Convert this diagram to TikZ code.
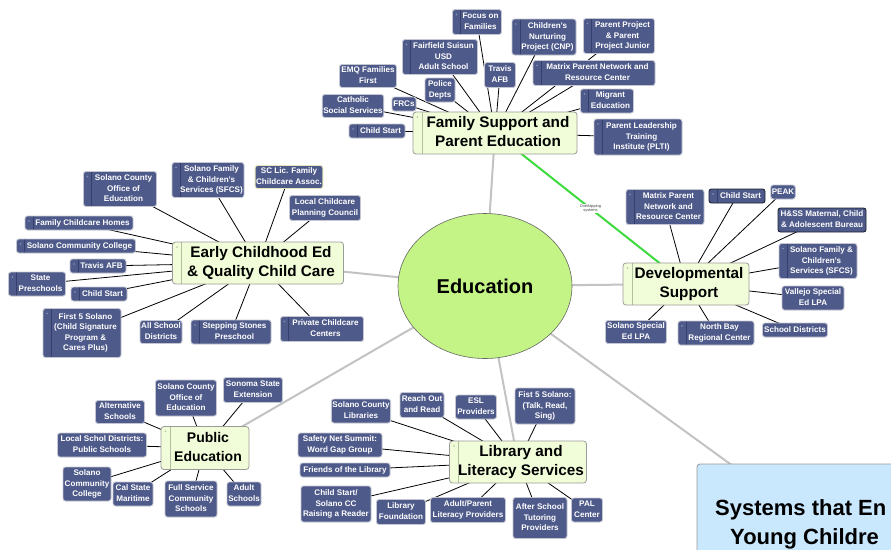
\documentclass[tikz,border=0pt]{standalone}
\usepackage{fontspec}
\setmainfont{Liberation Sans}
\usetikzlibrary{shapes.geometric}
\pgfdeclarelayer{background}
\pgfsetlayers{background,main}
\definecolor{itemfill}{HTML}{4E5A8A}
\definecolor{itemborder}{HTML}{C4C6D2}
\definecolor{darkborder}{HTML}{1C2030}
\definecolor{scborder}{HTML}{E6E6B8}
\definecolor{barcol}{HTML}{363F6C}
\definecolor{iconcol}{HTML}{8A93B8}
\definecolor{hubfill}{HTML}{F1FDD9}
\definecolor{hubborder}{HTML}{9A9A9A}
\definecolor{hubbar}{HTML}{B0C0A0}
\definecolor{edufill}{HTML}{C4F485}
\definecolor{eduborder}{HTML}{666666}
\definecolor{hublinecol}{HTML}{C3C3C3}
\definecolor{greenline}{HTML}{3DDB3D}
\definecolor{sysfill}{HTML}{C9E8FE}
\definecolor{sysborder}{HTML}{9A9A9A}
\newcommand\itx[1]{\begin{tabular}{@{}c@{}}#1\end{tabular}}
\newcommand\itb[1]{\hspace*{7pt}\itx{#1}}
\newcommand\hbt[1]{\hspace*{6pt}\itx{#1}}
\newcommand\itemfont{\fontsize{8.1}{10.5}\selectfont\bfseries}
\newcommand\hubfont{\fontsize{15.3}{19}\selectfont\bfseries}
\tikzset{
  sz/.style 2 args={minimum width=#1pt,minimum height=#2pt},
  item/.style={draw=itemborder, line width=0.9pt, fill=itemfill, rounded corners=2.5pt,
    text=white, font=\itemfont, inner sep=1pt},
  ibar/.style={path picture={
    \draw[barcol, line width=0.8pt] ([xshift=8pt]path picture bounding box.north west) -- ([xshift=8pt]path picture bounding box.south west);
    \fill[iconcol] ([xshift=4pt,yshift=-5pt]path picture bounding box.north west) circle (0.8pt);}},
  dk/.style={draw=darkborder},
  hub/.style={draw=hubborder, line width=0.8pt, fill=hubfill, rounded corners=3pt,
    text=black, font=\hubfont, inner sep=1pt},
  hbar/.style={path picture={
    \draw[hubbar, line width=0.8pt] ([xshift=9pt]path picture bounding box.north west) -- ([xshift=9pt]path picture bounding box.south west);
    \fill[hubbar] ([xshift=4.5pt,yshift=-5pt]path picture bounding box.north west) circle (0.9pt);}},
  conn/.style={draw=black, line width=0.8pt},
  hubline/.style={draw=hublinecol, line width=2pt},
  ovl/.style={fill=white, inner sep=0.3pt, font=\fontsize{3.9}{4.8}\selectfont, text=black!75, align=center},
}
\begin{document}
\begin{tikzpicture}[x=1pt,y=-1pt]
\useasboundingbox (0,0) rectangle (891,549);
\clip (0,0) rectangle (891,549);

% central node
\node[ellipse, draw=eduborder, line width=0.6pt, fill=edufill, minimum width=174pt, minimum height=145pt, inner sep=0pt,
  font=\fontsize{20}{24}\selectfont\bfseries] (edu) at (485,286) {Education};

% systems box
\node[draw=sysborder, line width=0.8pt, fill=sysfill, rounded corners=3pt, sz={306}{174}] (sys) at (850,551) {};
\node[anchor=base west, font=\fontsize{22}{26}\selectfont\bfseries, inner sep=0pt] (sysa) at (715,515) {Systems that En};
\node[anchor=base west, font=\fontsize{22}{26}\selectfont\bfseries, inner sep=0pt] (sysb) at (730,544) {Young Childre};

% hubs
\node[hub, hbar, sz={164}{42}] (fam) at (495,133) {\hbt{Family Support and\\Parent Education}};
\node[hub, hbar, sz={171}{42}] (ece) at (258,263) {\hbt{Early Childhood Ed\\\& Quality Child Care}};
\node[hub, hbar, sz={126}{42}] (dev) at (686,284) {\hbt{Developmental\\Support}};
\node[hub, hbar, sz={88}{43}, font=\fontsize{14}{19}\selectfont\bfseries] (pub) at (205,448) {\hbt{Public\\Education}};
\node[hub, hbar, sz={137}{42}] (lib) at (518,462) {\hbt{Library and\\Literacy Services}};

% Family Support items
\node[item, ibar, sz={49}{25}] (f1) at (477,22) {\itb{Focus on\\Families}};
\node[item, ibar, sz={64}{36}] (f2) at (544,37) {\itb{Children's\\Nurturing\\Project (CNP)}};
\node[item, ibar, sz={71}{35}] (f3) at (619,36) {\itb{Parent Project\\\& Parent\\Project Junior}};
\node[item, ibar, sz={75}{35}] (f4) at (440,57) {\itb{Fairfield Suisun\\USD\\Adult School}};
\node[item, sz={57}{23}] (f5) at (368,76) {\itx{EMQ Families\\First}};
\node[item, sz={31}{25}] (f6) at (500,75) {\itx{Travis\\AFB}};
\node[item, ibar, sz={122}{25}] (f7) at (594,73) {\itb{Matrix Parent Network and\\Resource Center}};
\node[item, sz={30}{24}] (f8) at (440,90) {\itx{Police\\Depts}};
\node[item, sz={60}{23}] (f9) at (353,106) {\itx{Catholic\\Social Services}};
\node[item, sz={24}{14}] (f10) at (404,104) {\itx{FRCs}};
\node[item, ibar, sz={53}{24}] (f11) at (607,101) {\itb{Migrant\\Education}};
\node[item, ibar, sz={56}{14}] (f12) at (377,131) {\itb{Child Start}};
\node[item, ibar, sz={88}{36}] (f13) at (638,137) {\itb{Parent Leadership\\Training\\Institute (PLTI)}};

% Early Childhood items
\node[item, ibar, sz={73}{35}] (e1) at (120,189) {\itb{Solano County\\Office of\\Education}};
\node[item, ibar, sz={72}{35}] (e2) at (208,180) {\itb{Solano Family\\\& Children's\\Services (SFCS)}};
\node[item, draw=scborder, sz={66}{23}] (e3) at (289,177) {\itx{SC Lic. Family\\Childcare Assoc.}};
\node[item, sz={71}{25}] (e4) at (325,208) {\itx{Local Childcare\\Planning Council}};
\node[item, ibar, sz={108}{14}] (e5) at (79,223) {\itb{Family Childcare Homes}};
\node[item, ibar, sz={119}{14}] (e6) at (76,246) {\itb{Solano Community College}};
\node[item, ibar, sz={56}{14}] (e7) at (98,266) {\itb{Travis AFB}};
\node[item, ibar, sz={57}{24}] (e8) at (37,284) {\itb{State\\Preschools}};
\node[item, ibar, sz={56}{14}] (e9) at (99,294) {\itb{Child Start}};
\node[item, ibar, sz={78}{49}] (e10) at (82,333) {\itb{First 5 Solano\\(Child Signature\\Program \&\\Cares Plus)}};
\node[item, sz={42}{23}] (e11) at (161,332) {\itx{All School\\Districts}};
\node[item, ibar, sz={80}{24}] (e12) at (231,332) {\itb{Stepping Stones\\Preschool}};
\node[item, ibar, sz={83}{25}] (e13) at (322,329) {\itb{Private Childcare\\Centers}};

% Developmental Support items
\node[item, ibar, sz={78}{35}] (d1) at (665,207) {\itb{Matrix Parent\\Network and\\Resource Center}};
\node[item, ibar, dk, sz={56}{14}] (d2) at (737,196) {\itb{Child Start}};
\node[item, sz={23}{14}] (d3) at (783,192) {\itx{PEAK}};
\node[item, dk, sz={88}{24}] (d4) at (822,220) {\itx{H\&SS Maternal, Child\\\& Adolescent Bureau}};
\node[item, ibar, sz={78}{35}] (d5) at (818,261) {\itb{Solano Family \&\\Children's\\Services (SFCS)}};
\node[item, sz={62}{24}] (d6) at (813,298) {\itx{Vallejo Special\\Ed LPA}};
\node[item, sz={65}{14}] (d7) at (795,330) {\itx{School Districts}};
\node[item, ibar, sz={76}{24}] (d8) at (716,333) {\itb{North Bay\\Regional Center}};
\node[item, sz={61}{23}] (d9) at (636,332) {\itx{Solano Special\\Ed LPA}};

% Public Education items
\node[item, sz={61}{36}] (p1) at (186,398) {\itx{Solano County\\Office of\\Education}};
\node[item, sz={59}{25}] (p2) at (253,390) {\itx{Sonoma State\\Extension}};
\node[item, sz={49}{23}] (p3) at (120,412) {\itx{Alternative\\Schools}};
\node[item, sz={89}{24}] (p4) at (102,445) {\itx{Local Schol Districts:\\Public Schools}};
\node[item, sz={48}{34}] (p5) at (87,484) {\itx{Solano\\Community\\College}};
\node[item, sz={40}{24}] (p6) at (133,494) {\itx{Cal State\\Maritime}};
\node[item, sz={52}{36}] (p7) at (191,499) {\itx{Full Service\\Community\\Schools}};
\node[item, sz={34}{24}] (p8) at (244,494) {\itx{Adult\\Schools}};

% Library items
\node[item, sz={58}{24}] (l1) at (361,411) {\itx{Solano County\\Libraries}};
\node[item, sz={44}{25}] (l2) at (422,405) {\itx{Reach Out\\and Read}};
\node[item, sz={41}{24}] (l3) at (476,407) {\itx{ESL\\Providers}};
\node[item, sz={60}{36}] (l4) at (545,406) {\itx{Fist 5 Solano:\\(Talk, Read,\\Sing)}};
\node[item, sz={84}{24}] (l5) at (340,445) {\itx{Safety Net Summit:\\Word Gap Group}};
\node[item, sz={90}{14}] (l6) at (345,470) {\itx{Friends of the Library}};
\node[item, sz={70}{36}] (l7) at (336,504) {\itx{Child Start/\\Solano CC\\Raising a Reader}};
\node[item, sz={49}{25}] (l8) at (401,512) {\itx{Library\\Foundation}};
\node[item, sz={75}{25}] (l9) at (468,510) {\itx{Adult/Parent\\Literacy Providers}};
\node[item, sz={54}{41}] (l10) at (540,518) {\itx{After School\\Tutoring\\Providers}};
\node[item, sz={31}{24}] (l11) at (587,510) {\itx{PAL\\Center}};

% connectors
\begin{pgfonlayer}{background}
  \fill[white] (0,0) rectangle (891,549);
  \draw[hubline] (fam.center) -- (edu.center);
  \draw[hubline] (ece.center) -- (edu.center);
  \draw[hubline] (dev.center) -- (edu.center);
  \draw[hubline] (pub.center) -- (edu.center);
  \draw[hubline] (lib.center) -- (edu.center);
  \draw[hubline] (edu.center) -- (sys.center);
  \foreach \i in {1,...,13} \draw[conn] (f\i.center) -- (fam.center);
  \foreach \i in {1,...,13} \draw[conn] (e\i.center) -- (ece.center);
  \foreach \i in {1,...,9} \draw[conn] (d\i.center) -- (dev.center);
  \foreach \i in {1,...,8} \draw[conn] (p\i.center) -- (pub.center);
  \foreach \i in {1,...,11} \draw[conn] (l\i.center) -- (lib.center);
  \draw[greenline, line width=2pt] (fam.center) -- node[ovl] (ovlab) {Overlapping\\systems} (dev.center);
\end{pgfonlayer}
\end{tikzpicture}
\end{document}
